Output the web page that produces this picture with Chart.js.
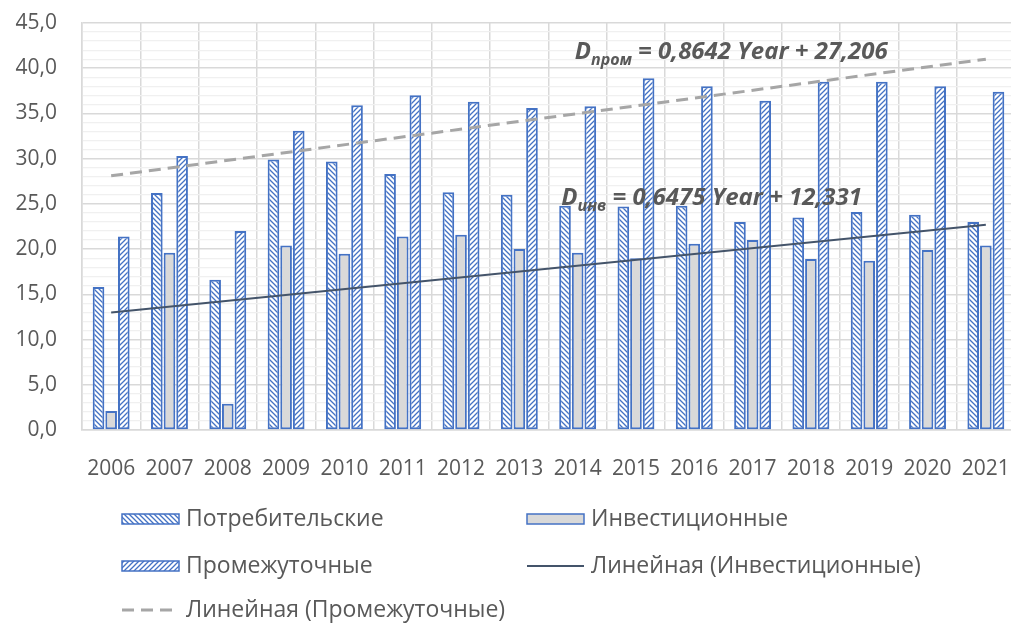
<!DOCTYPE html>
<html>
<head>
<meta charset="utf-8">
<script src="https://cdn.jsdelivr.net/npm/chart.js@4.4.1/dist/chart.umd.min.js"></script>
<style>
  html, body { margin: 0; padding: 0; background: #fff; overflow: hidden; }
  #wrap { width: 1020px; height: 626px; }
</style>
</head>
<body>
<div id="wrap"><canvas id="chart" width="1020" height="626"></canvas></div>
<script>
// данные
const years = ['2006', '2007', '2008', '2009', '2010', '2011', '2012', '2013',
               '2014', '2015', '2016', '2017', '2018', '2019', '2020', '2021'];
const consumer     = [15.8, 26.2, 16.6, 29.9, 29.7, 28.3, 26.3, 26.0, 24.8, 24.7, 24.8, 23.0, 23.5, 24.1, 23.8, 23.0];
const investment   = [2.1, 19.6, 2.9, 20.4, 19.5, 21.4, 21.6, 20.0, 19.6, 19.0, 20.6, 21.0, 18.9, 18.7, 19.9, 20.4];
const intermediate = [21.4, 30.3, 22.0, 33.1, 35.9, 37.0, 36.3, 35.6, 35.8, 38.9, 38.0, 36.4, 38.5, 38.5, 38.0, 37.4];
// концы линий тренда (2006 и 2021)
const trendInvest = [13.0, 22.7];
const trendInter  = [28.1, 41.0];
const eqInter = ['D', 'пром', ' = 0,8642 Year + 27,206'];
const eqInvest = ['D', 'инв', ' = 0,6475 Year + 12,331'];

const BLUE = '#4472c4';
const TEXT = '#595959';
const FONT = "'Open Sans'";

function hatch(dir) {
  const s = 5;
  const c = document.createElement('canvas');
  c.width = s; c.height = s;
  const g = c.getContext('2d');
  g.fillStyle = '#fff';
  g.fillRect(0, 0, s, s);
  g.strokeStyle = BLUE;
  g.lineWidth = 1.3;
  g.beginPath();
  if (dir === 'down') {
    g.moveTo(-1, -1); g.lineTo(s + 1, s + 1);
    g.moveTo(-1, s - 1); g.lineTo(1, s + 1);
    g.moveTo(s - 1, -1); g.lineTo(s + 1, 1);
  } else {
    g.moveTo(-1, s + 1); g.lineTo(s + 1, -1);
    g.moveTo(-1, 1); g.lineTo(1, -1);
    g.moveTo(s - 1, s + 1); g.lineTo(s + 1, s - 1);
  }
  g.stroke();
  return g.createPattern(c, 'repeat');
}

const patDown = hatch('down');
const patUp = hatch('up');

// подпись уравнения с нижним индексом
function drawEquation(ctx, parts, x, y) {
  ctx.fillStyle = TEXT;
  ctx.textBaseline = 'alphabetic';
  ctx.textAlign = 'left';
  ctx.font = `italic bold 24px ${FONT}`;
  ctx.fillText(parts[0], x, y);
  x += ctx.measureText(parts[0]).width;
  ctx.font = `italic bold 16px ${FONT}`;
  ctx.fillText(parts[1], x, y + 6);
  x += ctx.measureText(parts[1]).width;
  ctx.font = `italic bold 24px ${FONT}`;
  ctx.fillText(parts[2], x, y);
}

const equations = {
  id: 'equations',
  afterDatasetsDraw(chart) {
    const { ctx, scales: { x, y } } = chart;
    ctx.save();
    drawEquation(ctx, eqInter, x.getPixelForValue(7.95), y.getPixelForValue(41.0));
    drawEquation(ctx, eqInvest, x.getPixelForValue(7.72), y.getPixelForValue(24.9));
    ctx.restore();
  }
};

// легенда в две колонки, как в Excel
const legendGrid = {
  id: 'legendGrid',
  afterDraw(chart) {
    const ctx = chart.ctx;
    const ds = chart.data.datasets;
    const cells = [
      [ds[0], 122, 519], [ds[1], 527, 519],
      [ds[2], 122, 566], [ds[3], 527, 566],
      [ds[4], 122, 610]
    ];
    ctx.save();
    cells.forEach(([d, x, y]) => {
      if (d.type === 'line') {
        ctx.strokeStyle = d.borderColor;
        ctx.lineWidth = d.borderWidth;
        ctx.setLineDash(d.borderDash || []);
        ctx.beginPath();
        ctx.moveTo(x, y); ctx.lineTo(x + 57, y);
        ctx.stroke();
        ctx.setLineDash([]);
      } else {
        ctx.fillStyle = d.backgroundColor;
        ctx.fillRect(x, y - 5, 57, 10);
        ctx.strokeStyle = BLUE;
        ctx.lineWidth = 1.5;
        ctx.strokeRect(x, y - 5, 57, 10);
      }
      ctx.fillStyle = TEXT;
      ctx.font = `23px ${FONT}`;
      ctx.textBaseline = 'middle';
      ctx.fillText(d.label, x + 64, y);
    });
    ctx.restore();
  }
};

Chart.defaults.font.family = FONT;
Chart.defaults.color = TEXT;

new Chart(document.getElementById('chart'), {
  type: 'bar',
  data: {
    labels: years,
    datasets: [
      {
        label: 'Потребительские', data: consumer,
        backgroundColor: patDown, borderColor: BLUE, borderWidth: 2, borderSkipped: false,
        order: 2
      },
      {
        label: 'Инвестиционные', data: investment,
        backgroundColor: '#d9d9d9', borderColor: BLUE, borderWidth: 2, borderSkipped: false,
        order: 2
      },
      {
        label: 'Промежуточные', data: intermediate,
        backgroundColor: patUp, borderColor: BLUE, borderWidth: 2, borderSkipped: false,
        order: 2
      },
      {
        type: 'line', label: 'Линейная (Инвестиционные)',
        data: [{ x: years[0], y: trendInvest[0] }, { x: years[15], y: trendInvest[1] }],
        borderColor: '#44546a', borderWidth: 2, pointRadius: 0, order: 0
      },
      {
        type: 'line', label: 'Линейная (Промежуточные)',
        data: [{ x: years[0], y: trendInter[0] }, { x: years[15], y: trendInter[1] }],
        borderColor: '#a6a6a6', borderWidth: 3, borderDash: [12, 7], pointRadius: 0, order: 0
      }
    ]
  },
  options: {
    responsive: false,
    animation: false,
    layout: { padding: { top: 23, right: 5, bottom: 138, left: 0 } },
    datasets: { bar: { categoryPercentage: 0.65, barPercentage: 0.92 } },
    plugins: { legend: { display: false }, tooltip: { enabled: false } },
    scales: {
      x: {
        afterFit: s => { s.height = 58; },
        grid: { color: '#d9d9d9', lineWidth: 1.5, tickLength: 26, tickColor: 'rgba(0,0,0,0)', offset: true },
        border: { color: '#d9d9d9', width: 1.5 },
        ticks: { padding: 0, font: { size: 21 }, color: TEXT, maxRotation: 0, autoSkip: false }
      },
      y: {
        min: 0, max: 45,
        afterFit: s => { s.width = 82; },
        grid: {
          tickLength: 25, tickColor: 'rgba(0,0,0,0)',
          color: c => (c.tick.value % 5 === 0 ? '#d9d9d9' : '#f0f0f0'),
          lineWidth: c => (c.tick.value % 5 === 0 ? 1.5 : 1.2)
        },
        border: { color: '#d9d9d9', width: 1.5 },
        ticks: {
          stepSize: 1, autoSkip: false, padding: 0, font: { size: 21 }, color: TEXT,
          callback: v => (v % 5 === 0 ? v.toFixed(1).replace('.', ',') : '')
        }
      }
    }
  },
  plugins: [equations, legendGrid]
});
</script>
</body>
</html>
